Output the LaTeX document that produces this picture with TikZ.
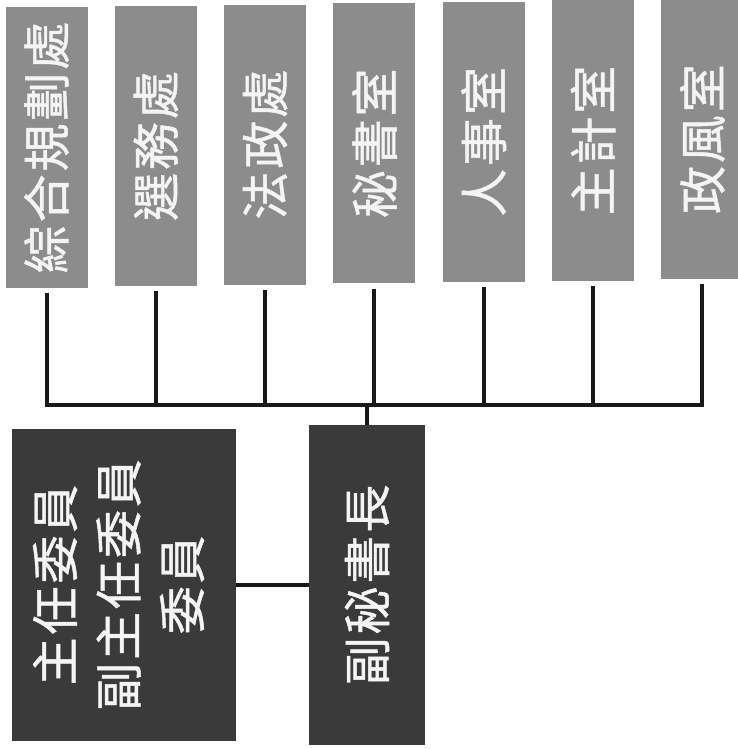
\documentclass[tikz,border=0pt]{standalone}
\usepackage{fontspec}
\usepackage{xcolor}
\usepackage{tikz}
\newfontfamily\cjk[LetterSpace=6,FakeBold=1]{Noto Sans CJK TC}
\definecolor{unitgrey}{HTML}{8C8C8C}
\definecolor{boarddark}{HTML}{3A3A3A}
\definecolor{inklight}{HTML}{F4F4F4}

\begin{document}
\begin{tikzpicture}[x=1pt,y=-1pt,
		box/.style={inner sep=0pt,text=inklight,font=\cjk\fontsize{48}{63.5}\selectfont},
		unit/.style={box,fill=unitgrey,minimum width=82pt,minimum height=280pt},
		board/.style={box,fill=boarddark},
		link/.style={draw=black!90,line width=4pt}
		]
		\useasboundingbox (0,0) rectangle (737,749);
		\foreach \name [count=\i] in {綜合規劃處,選務處,法政處,秘書室,人事室,主計室,政風室}
			\node[unit] (u\i) at ({46.5+109.3*(\i-1)},{147.5-1.4*(\i-1)}) {\rotatebox{90}{\name}};
		\node[board,minimum width=224pt,minimum height=312pt] (board) at (124,585) {\rotatebox{90}{\begin{tabular}{@{}c@{}}主任委員\\副主任委員\\委員\end{tabular}}};
		\node[board,minimum width=116pt,minimum height=320pt] (deputy) at (367,585) {\rotatebox{90}{副秘書長}};
		\coordinate (bus) at (367,405);
		\foreach \i in {1,...,7}
			\draw[link,shorten <=5pt] (u\i.south) -- (u\i.south |- bus);
		\draw[link,line cap=rect] (u1.south |- bus) -- (u7.south |- bus);
		\draw[link] (deputy.north) -- (bus);
		\draw[link] (board.east) -- (deputy.west);
	\end{tikzpicture}
\end{document}
